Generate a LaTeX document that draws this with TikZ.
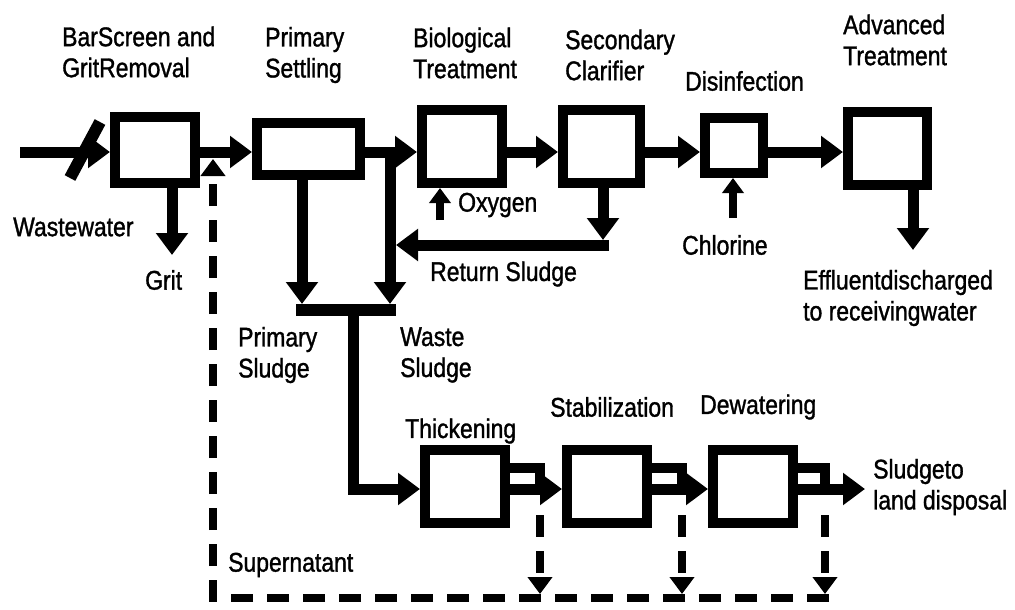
\documentclass[tikz,border=0pt]{standalone}
\usepackage{fontspec}
\setmainfont{Liberation Sans}[FakeStretch=0.85,FakeBold=1.2]
\usetikzlibrary{arrows.meta,calc}
\begin{document}
\begin{tikzpicture}[x=1pt,y=-1pt,
  box/.style={draw,line width=10pt,inner sep=0pt,fill=white},
  flow/.style={line width=11pt,-{Triangle[length=22pt,width=31pt]}},
  pipe/.style={line width=10pt},
  smallflow/.style={line width=8pt,-{Triangle[length=15pt,width=21pt]}},
  dashflow/.style={line width=8pt,dash pattern=on 22pt off 14pt,-{Triangle[length=17pt,width=24pt]}},
  lbl/.style={font=\fontsize{27}{31}\selectfont,inner sep=0pt,anchor=west,align=left}]
\useasboundingbox[fill=white] (0,0) rectangle (1015,610);

% boxes
\node[box,minimum width=80pt,minimum height=66pt] (bar) at (155,150) {};
\node[box,minimum width=103pt,minimum height=52pt] (prim) at (308.5,149) {};
\node[box,minimum width=80pt,minimum height=73pt] (bio) at (462,146.5) {};
\node[box,minimum width=77pt,minimum height=73pt] (sec) at (601.5,146.5) {};
\node[box,minimum width=58pt,minimum height=55pt] (dis) at (734,145.5) {};
\node[box,minimum width=79pt,minimum height=73pt] (adv) at (887.5,148.5) {};
\node[box,minimum width=80pt,minimum height=73pt] (thick) at (465,486.5) {};
\node[box,minimum width=80pt,minimum height=73pt] (stab) at (607,486.5) {};
\node[box,minimum width=80pt,minimum height=73pt] (dew) at (753,486.5) {};

% coordinates
\coordinate (m) at (0,152);
\coordinate (in) at (20,152);
\coordinate (s1) at (70,178);
\coordinate (s2) at (100,122);
\coordinate (grit) at (172,255);
\coordinate (wj) at (390,147);
\coordinate (wt) at (390,304);
\coordinate (pt) at (302,304);
\coordinate (b1) at (296,310);
\coordinate (b2) at (396,310);
\coordinate (dj) at (353,305);
\coordinate (bl) at (353,489);
\coordinate (rs) at (603,240);
\coordinate (r1) at (609,245);
\coordinate (r2) at (396,245);
\coordinate (ox) at (440,220);
\coordinate (cl) at (733,218);
\coordinate (ef) at (913,250);
\coordinate (p1) at (540,468);
\coordinate (p2) at (682,468);
\coordinate (p3) at (825,468);
\coordinate (out) at (865,489);
\coordinate (d1) at (540,515);
\coordinate (d2) at (682,515);
\coordinate (d3) at (825,515);
\coordinate (e1) at (540,594);
\coordinate (e2) at (682,594);
\coordinate (e3) at (825,594);
\coordinate (h1) at (829,598);
\coordinate (h2) at (213,598);
\coordinate (top) at (213,159);

% main line
\draw[flow] (in) -- (bar.west |- m);
\draw[line width=12pt] (s1) -- (s2);
\draw[flow] (bar.south -| grit) -- (grit);
\draw[flow] (bar.east |- m) -- (prim.west |- m);
\draw[flow] (prim.east |- m) -- (bio.west |- m);
\draw[flow] (wj) -- (wt);
\draw[flow] (prim.south -| pt) -- (pt);
\draw[line width=12pt] (b1) -- (b2);
\draw[flow] (dj) -- (bl) -- (thick.west |- bl);
\draw[flow] (sec.south -| rs) -- (rs);
\draw[flow] (r1) -- (r2);
\draw[smallflow] (ox) -- (bio.south -| ox);
\draw[flow] (bio.east |- m) -- (sec.west |- m);
\draw[flow] (sec.east |- m) -- (dis.west |- m);
\draw[flow] (dis.east |- m) -- (adv.west |- m);
\draw[smallflow] (cl) -- (dis.south -| cl);
\draw[flow] (adv.south -| ef) -- (ef);

% sludge line
\draw[pipe] (thick.east |- p1) -- (p1) -- ([yshift=3pt]p1 |- bl);
\draw[pipe] (stab.east |- p2) -- (p2) -- ([yshift=3pt]p2 |- bl);
\draw[pipe] (dew.east |- p3) -- (p3) -- ([yshift=3pt]p3 |- bl);
\draw[flow] (thick.east |- bl) -- (stab.west |- bl);
\draw[flow] (stab.east |- bl) -- (dew.west |- bl);
\draw[flow] (dew.east |- bl) -- (out);

% supernatant
\draw[dashflow] (d1) -- (e1);
\draw[dashflow] (d2) -- (e2);
\draw[dashflow] (d3) -- (e3);
\draw[dashflow] (h1) -- (h2) -- (top);

% labels
\node[lbl] (lbar) at (62,52) {BarScreen and\\GritRemoval};
\node[lbl] (lprim) at (265,55) {Primary\\Settling};
\node[lbl] (lbio) at (413,53) {Biological\\Treatment};
\node[lbl] (lsec) at (565,55) {Secondary\\Clarifier};
\node[lbl] (ldis) at (685,81) {Disinfection};
\node[lbl] (ladv) at (843,40) {Advanced\\Treatment};
\node[lbl] (lww) at (13,227) {Wastewater};
\node[lbl] (lgrit) at (145,280) {Grit};
\node[lbl] (lox) at (458,205) {Oxygen};
\node[lbl] (lrs) at (430,274) {Return Sludge};
\node[lbl] (lcl) at (682,245) {Chlorine};
\node[lbl] (lef) at (803,298) {Effluentdischarged\\to receivingwater};
\node[lbl] (lps) at (238,355) {Primary\\Sludge};
\node[lbl] (lws) at (400,355) {Waste\\Sludge};
\node[lbl] (lth) at (405,431) {Thickening};
\node[lbl] (lst) at (550,407) {Stabilization};
\node[lbl] (ldw) at (700,407) {Dewatering};
\node[lbl] (lsl) at (873,487) {Sludgeto\\land disposal};
\node[lbl] (lsu) at (228,565) {Supernatant};
\end{tikzpicture}
\end{document}
